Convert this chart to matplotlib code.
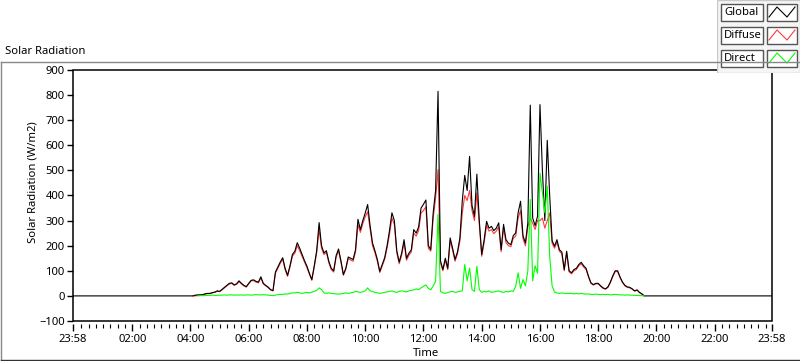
import numpy as np
import matplotlib
matplotlib.use('Agg')
import matplotlib.pyplot as plt
from matplotlib.patches import Rectangle
from matplotlib.lines import Line2D

nan = np.nan

# 5 minute samples from 04:00 to 20:00, one row per hour
global_rad = [
    0, 0, 3, 4, 4, 5, 8, 10, 10, 13, 15, 20,
    18, 26, 34, 42, 50, 52, 44, 48, 60, 50, 42, 37,
    50, 62, 64, 58, 55, 76, 50, 42, 35, 25, 21, 95,
    115, 135, 152, 110, 82, 120, 165, 178, 212, 190, 165, 140,
    118, 90, 65, 120, 180, 292, 200, 171, 180, 138, 110, 100,
    160, 187, 140, 85, 110, 155, 150, 145, 184, 305, 264, 300,
    330, 364, 280, 211, 180, 145, 98, 125, 152, 200, 260, 331,
    300, 180, 135, 170, 224, 150, 170, 184, 264, 250, 275, 350,
    365, 382, 200, 185, 331, 420, 815, 140, 105, 150, 110, 231,
    190, 145, 175, 230, 380, 480, 420, 556, 360, 317, 485, 300,
    165, 224, 297, 270, 277, 260, 270, 291, 184, 285, 224, 210,
    204, 240, 251, 331, 377, 240, 211, 291, 760, 310, 280, 317,
    762, 500, 300, 620, 400, 220, 198, 224, 184, 175, 105, 178,
    100, 92, 105, 110, 125, 134, 120, 110, 78, 52, 45, 50,
    50, 40, 32, 28, 36, 55, 80, 100, 100, 75, 55, 42,
    36, 34, 28, 20, 24, 14, 8, 0, 0, 0, 0, 0,
    0,
]

diffuse_rad = [
    nan, 0, 0, 2, 3, 4, 7, 9, 9, 12, 14, 18,
    17, 24, 32, 40, 47, 50, 42, 46, 57, 48, 40, 35,
    48, 60, 61, 55, 52, 72, 48, 40, 33, 24, 20, 90,
    110, 130, 146, 104, 78, 115, 158, 170, 200, 180, 157, 133,
    112, 86, 62, 115, 172, 265, 190, 165, 173, 132, 105, 95,
    154, 180, 134, 82, 106, 148, 143, 138, 175, 285, 253, 288,
    315, 335, 266, 200, 172, 138, 93, 119, 145, 190, 245, 310,
    285, 172, 128, 162, 212, 142, 162, 175, 250, 238, 260, 330,
    340, 355, 190, 178, 310, 390, 503, 132, 100, 143, 105, 220,
    182, 138, 167, 218, 330, 400, 380, 420, 340, 300, 410, 285,
    158, 212, 282, 258, 264, 248, 258, 275, 176, 272, 212, 200,
    196, 230, 238, 310, 340, 228, 200, 275, 310, 290, 265, 300,
    300, 310, 270, 300, 330, 210, 190, 215, 178, 168, 100, 172,
    96, 88, 100, 105, 120, 128, 115, 105, 75, 50, 43, 48,
    48, 38, 30, 27, 34, 53, 77, 97, 97, 73, 53, 40,
    34, 32, 27, 19, 23, 13, 7, 0, nan, nan, nan, nan,
    nan,
]

direct_rad = [
    nan, nan, nan, 0, 1, 1, 1, 2, 2, 3, 2, 2,
    3, 3, 4, 3, 4, 4, 3, 4, 3, 4, 3, 4,
    4, 3, 4, 5, 4, 4, 5, 4, 3, 2, 1, 3,
    5, 6, 6, 8, 7, 10, 12, 12, 14, 12, 10, 12,
    14, 12, 15, 18, 22, 32, 25, 12, 10, 12, 10, 9,
    8, 7, 8, 10, 12, 10, 12, 14, 18, 16, 14, 16,
    20, 32, 20, 18, 14, 12, 10, 12, 14, 16, 18, 20,
    16, 14, 18, 20, 18, 16, 20, 22, 24, 28, 25, 32,
    38, 44, 30, 24, 40, 58, 324, 18, 12, 10, 14, 16,
    18, 14, 16, 18, 20, 125, 60, 111, 25, 18, 118, 25,
    14, 18, 16, 20, 14, 16, 18, 20, 16, 14, 18, 16,
    20, 18, 38, 92, 30, 65, 40, 100, 384, 60, 120, 90,
    490, 410, 331, 437, 158, 40, 15, 12, 10, 12, 10, 10,
    10, 10, 8, 10, 8, 10, 8, 7, 8, 6, 6, 7,
    6, 5, 6, 5, 6, 4, 5, 6, 5, 4, 4, 3,
    4, 3, 3, 2, 2, 1, 1, 0, nan, nan, nan, nan,
    nan,
]

series_names = ['Global', 'Diffuse', 'Direct']
series_colors = ['black', '#ff3838', '#00ff00']

tick_hours = [-2 / 60, 2, 4, 6, 8, 10, 12, 14, 16, 18, 20, 22, 23 + 58 / 60]
tick_labels = ['23:58', '02:00', '04:00', '06:00', '08:00', '10:00', '12:00',
               '14:00', '16:00', '18:00', '20:00', '22:00', '23:58']
y_ticks = [-100, 0, 100, 200, 300, 400, 500, 600, 700, 800, 900]

plt.rcParams['font.family'] = ['Noto Sans', 'DejaVu Sans']
plt.rcParams['font.size'] = 8.1

W, H = 800, 361
fig = plt.figure(figsize=(W / 100, H / 100), dpi=100)
fig.patch.set_facecolor('white')

def px(x0, y0, x1, y1):
    # pixel box (top-left origin) -> figure rect
    return [x0 / W, 1 - y1 / H, (x1 - x0) / W, (y1 - y0) / H]

# outer frame of the chart
fig.add_artist(Line2D([0.5 / W, 0.5 / W], [1 - 61.5 / H, 1 - 360 / H], color='#888888', lw=1))
fig.add_artist(Line2D([0.5 / W, 1], [1 - 61.5 / H, 1 - 61.5 / H], color='#888888', lw=1))
fig.add_artist(Line2D([0.5 / W, 1], [1 - 360 / H, 1 - 360 / H], color='#333333', lw=1))
fig.text(5 / W, 1 - 51 / H, 'Solar Radiation', ha='left', va='center')

ax = fig.add_axes(px(73, 70, 772, 321))
t_day = 4 + np.arange(len(global_rad)) * 5 / 60
t_full = np.concatenate([[tick_hours[0]], t_day, [tick_hours[-1]]])
g_full = np.concatenate([[0], global_rad, [0]])

ax.plot(t_day, diffuse_rad, color=series_colors[1], lw=0.8, zorder=2)
ax.plot(t_full, g_full, color=series_colors[0], lw=0.8, zorder=3)
ax.plot(t_day, direct_rad, color=series_colors[2], lw=0.8, zorder=4)

ax.set_xlim(tick_hours[0], tick_hours[-1])
ax.set_ylim(-100, 900)
ax.set_yticks(y_ticks)
ax.set_xticks(tick_hours)
ax.set_xticklabels(tick_labels)
minor = [h / 4 for h in range(1, 96) if h % 8 != 0]
ax.set_xticks(minor, minor=True)
for s in ax.spines.values():
    s.set_visible(False)
ax.spines['bottom'].set_position(('outward', 2))
ax.add_patch(Rectangle((0, 0), 1, 1, transform=ax.transAxes, fill=False,
                       ec='black', lw=1.1, clip_on=False, zorder=5))
ax.tick_params(axis='x', which='major', length=5, width=1, pad=2, direction='out')
ax.tick_params(axis='x', which='minor', length=3, width=0.8, direction='out')
ax.tick_params(axis='y', length=4, width=1, pad=2, direction='out')

fig.text(33 / W, 1 - 182 / H, 'Solar Radiation (W/m2)', rotation=90, ha='center', va='center')
fig.text(426 / W, 1 - 354 / H, 'Time', ha='center', va='center')

# legend panel (plot legend in the corner)
lax = fig.add_axes(px(717, 0, 800, 73))
lax.set_xlim(717, 800)
lax.set_ylim(73, 0)
lax.axis('off')
lax.add_patch(Rectangle((717, 0), 83, 72.5, fc='#f5f5f5', ec='#c8c8c8', lw=1))
rows = [4, 27, 50]
for name, col, y0 in zip(series_names, series_colors, rows):
    lax.add_patch(Rectangle((721, y0), 42, 17, fc='white', ec='#555555', lw=1))
    lax.text(724, y0 + 8.5, name, ha='left', va='center', color='black')
    lax.add_patch(Rectangle((767, y0), 30, 17, fc='white', ec='#555555', lw=1))
    lax.plot([769, 777, 787, 795], [y0 + 13, y0 + 3, y0 + 13, y0 + 3], color=col, lw=0.8)

fig.savefig('out.png', dpi=100)
